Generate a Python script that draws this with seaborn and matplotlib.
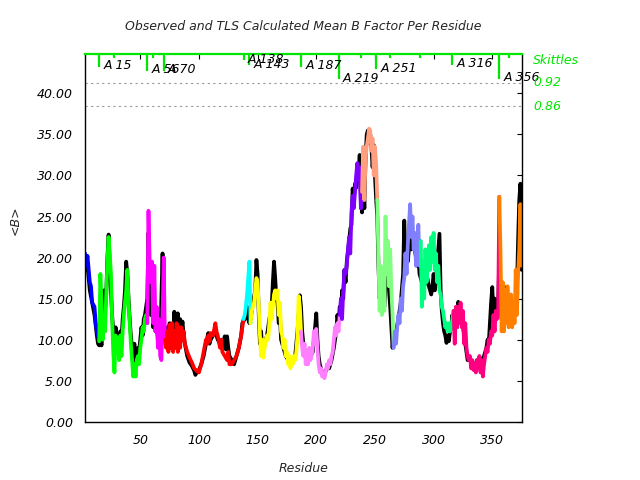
import numpy as np
import pandas as pd
import matplotlib
matplotlib.use("Agg")
import matplotlib.pyplot as plt
import matplotlib.transforms as mtransforms
from matplotlib.ticker import FormatStrFormatter
import seaborn as sns

# ---------------- data ----------------
# TLS calculated mean B per residue (coloured by TLS group)
tls_residue = [
    3, 4, 5, 7, 8, 9, 11, 12, 13, 14,
    15, 16, 17, 18, 19, 20, 21, 22, 23, 24, 25, 26, 27, 28, 29, 30, 31, 32, 33, 34,
    35, 36, 37, 38, 39, 40, 41, 42, 43, 44, 45, 46, 47, 48, 49, 50, 51, 52, 53, 54, 55,
    56, 57, 58, 59, 60, 61, 62, 63, 64, 65, 66, 67, 68, 69, 70,
    71, 72, 73, 74, 75, 76, 77, 78, 79, 80, 81, 82, 83, 84, 85, 86, 87, 88,
    90, 92, 94, 96, 98, 100, 102, 104, 106, 107, 108, 109, 110, 112, 114, 115, 116,
    118, 119, 120, 122, 124, 125, 126, 128, 130, 132, 134, 136, 137,
    138, 139, 140, 141, 142, 143,
    144, 145, 146, 147, 148, 149, 150, 151, 152, 153, 154, 155, 156, 157, 158, 159, 160,
    161, 162, 163, 164, 165, 166, 167, 168, 169, 170, 171, 172, 173, 174, 175, 176, 177,
    178, 179, 180, 181, 182, 183, 184, 185, 186,
    187, 188, 189, 190, 191, 192, 193, 194, 195, 196, 197, 198, 199, 200, 201, 202, 203,
    204, 205, 206, 207, 208, 209, 210, 211, 212, 213, 214, 215, 216, 217, 218, 219,
    220, 221, 222, 223, 224, 225, 226, 227, 228, 229, 230, 231, 232, 233, 234, 235, 236, 237, 238,
    239, 240, 241, 242, 243, 244, 245, 246, 247, 248, 249, 250, 251,
    252, 253, 254, 255, 256, 257, 258, 259, 260, 261, 262, 263, 264, 265,
    266, 267, 268, 269, 270, 271, 272, 273, 274, 275, 276, 277, 278, 279, 280, 281, 282,
    283, 284, 285, 286, 287, 288,
    289, 290, 291, 292, 293, 294, 295, 296, 297, 298, 299, 300, 301, 302, 303, 304, 305,
    306, 307, 308, 309, 310, 311, 312, 313, 314, 315, 316,
    317, 318, 319, 320, 321, 322, 323, 324, 325, 326, 327, 328, 329, 330, 331, 332, 333,
    334, 335, 336, 337, 338, 339, 340, 341, 342, 343, 344, 345, 346, 347, 348, 349, 350,
    351, 352, 353, 354, 355,
    356, 357, 358, 359, 360, 361, 362, 363, 364, 365, 366, 367, 368, 369, 370, 371, 372,
    373, 374, 375,
]
tls_b = [
    20.5, 19.0, 20.2, 17.0, 16.5, 14.5, 14.0, 12.0, 11.0, 10.5,
    9.8, 18.0, 14.5, 10.0, 12.5, 11.0, 15.5, 19.5, 22.5, 20.5, 18.0, 12.5, 8.5, 6.0, 10.5, 8.5, 10.0, 7.5, 10.5, 8.0,
    11.0, 13.0, 14.5, 16.0, 18.5, 14.5, 12.0, 9.5, 7.5, 5.5, 7.0, 5.5, 7.5, 8.0, 7.0, 9.0, 10.0, 11.5, 11.0, 12.5, 13.0,
    12.0, 25.7, 19.5, 17.0, 19.5, 12.0, 19.0, 11.0, 14.0, 9.0, 12.5, 8.0, 7.5, 13.0, 20.0,
    10.0, 9.0, 11.0, 8.5, 11.8, 9.0, 12.0, 8.5, 11.0, 9.0, 12.0, 8.5, 11.5, 9.0, 11.5, 10.0, 11.0, 9.5,
    8.5, 7.8, 7.2, 6.5, 6.2, 6.0, 7.0, 8.5, 10.0, 9.5, 10.5, 9.8, 10.8, 10.5, 12.0, 11.0, 10.5,
    9.0, 10.0, 8.5, 8.0, 7.5, 8.5, 7.0, 7.0, 7.5, 8.0, 9.0, 10.5, 11.5,
    12.5, 13.0, 14.0, 15.5, 17.5, 19.5,
    12.0, 13.5, 14.0, 14.5, 16.0, 17.5, 17.0, 14.0, 10.5, 8.0, 10.0, 7.8, 9.0, 10.0, 10.5, 10.0, 12.0,
    14.5, 12.5, 14.0, 15.5, 16.0, 15.0, 16.0, 13.0, 14.5, 11.0, 10.5, 9.0, 10.0, 8.0, 8.5, 7.0, 8.0,
    6.5, 7.5, 7.0, 8.0, 7.5, 8.5, 10.5, 15.3, 14.0,
    11.0, 9.0, 8.0, 9.5, 7.0, 8.5, 7.0, 9.0, 7.5, 8.0, 9.0, 11.0, 9.5, 11.3, 9.0, 7.0, 6.0,
    6.5, 5.5, 6.0, 5.3, 6.0, 7.0, 6.5, 7.5, 7.0, 8.0, 8.5, 10.0, 11.5, 10.5, 12.0, 11.0,
    13.0, 15.0, 12.5, 16.0, 18.5, 18.0, 19.0, 21.0, 22.5, 20.5, 25.5, 27.5, 26.0, 28.0, 30.0, 31.5, 29.5, 31.0, 26.0,
    28.0, 33.5, 27.0, 32.0, 33.5, 34.5, 35.7, 35.5, 33.0, 34.5, 30.0, 33.5, 31.5,
    27.0, 20.0, 13.5, 19.0, 13.0, 17.5, 13.5, 25.0, 18.0, 22.0, 16.5, 21.0, 16.0, 13.0,
    9.0, 11.0, 9.5, 11.5, 13.0, 12.0, 15.0, 13.5, 16.5, 17.5, 20.5, 18.0, 21.5, 24.0, 26.5, 22.5, 25.0,
    21.0, 23.0, 19.0, 21.5, 24.0, 19.0,
    22.0, 14.0, 19.5, 15.0, 21.0, 17.0, 19.0, 21.5, 18.5, 22.5, 19.5, 23.0, 18.5, 20.5, 17.0, 19.0, 16.0,
    15.5, 14.0, 13.5, 12.5, 11.5, 12.0, 11.0, 12.0, 11.0, 11.5, 12.5,
    13.5, 9.5, 14.0, 11.5, 14.0, 12.0, 14.5, 11.5, 13.5, 9.5, 12.0, 9.0, 8.0, 7.5, 8.0, 6.5, 7.5,
    6.3, 7.0, 6.0, 7.5, 6.5, 8.0, 6.0, 7.5, 5.5, 7.0, 8.0, 9.0, 8.5, 10.0, 9.5, 11.0, 10.5,
    13.0, 11.0, 13.5, 12.5, 13.0,
    27.4, 21.0, 11.0, 17.0, 11.0, 16.0, 12.0, 16.5, 11.5, 14.0, 15.5, 11.5, 14.5, 12.0, 18.5, 13.0, 18.0,
    21.0, 26.5, 19.0,
]

# observed mean B per residue (black)
obs_residue = [
    3, 4, 5, 7, 9, 11, 13, 14, 15, 16, 17, 18, 19, 20, 21, 22, 23, 24, 25, 26, 27, 28, 29, 30,
    31, 32, 33, 34, 35, 36, 37, 38, 39, 40, 41, 42, 43, 44, 45, 46, 47, 48, 49, 50, 51, 52, 53,
    54, 55, 56, 57, 58, 59, 60, 61, 62, 63, 64, 65, 66, 67, 68, 69, 70, 71, 72, 73, 74, 75, 76,
    77, 78, 79, 80, 81, 82, 83, 84, 85, 86, 87, 88, 90, 92, 94, 96, 97, 98, 100, 102, 104, 106,
    108, 109, 110, 112, 114, 116, 118, 120, 122, 123, 124, 125, 126, 128, 130, 132, 134, 136, 137,
    139, 141, 142, 143, 144, 146, 148, 149, 150, 151, 152, 153, 154, 156, 158, 160, 162, 163, 164,
    165, 166, 167, 168, 169, 170, 172, 174, 176, 178, 180, 182, 184, 185, 186, 187, 188, 189, 191,
    193, 195, 197, 198, 199, 200, 201, 202, 203, 205, 207, 209, 211, 213, 215, 217, 218, 219, 220,
    221, 222, 223, 224, 225, 226, 228, 229, 230, 231, 232, 233, 234, 235, 236, 237, 238, 239, 240,
    241, 242, 243, 244, 245, 246, 247, 248, 249, 250, 251, 252, 253, 254, 255, 256, 257, 258, 259,
    260, 261, 262, 263, 264, 265, 266, 267, 268, 270, 272, 274, 275, 276, 277, 278, 279, 280, 281,
    282, 284, 286, 287, 288, 290, 292, 294, 296, 298, 299, 300, 301, 302, 303, 304, 305, 306, 307,
    308, 309, 310, 311, 312, 313, 314, 315, 316, 317, 318, 319, 320, 321, 322, 323, 324, 326, 328,
    329, 331, 333, 335, 337, 339, 341, 343, 345, 346, 347, 348, 349, 350, 351, 352, 353, 354, 355,
    356, 357, 358, 359, 360, 361, 362, 363, 364, 366, 368, 370, 371, 372, 373, 374, 375,
]
obs_b = [
    20.0, 18.5, 19.0, 16.0, 14.5, 13.0, 10.5, 9.5, 9.3, 10.0, 9.3, 11.0, 16.0, 13.5, 15.5, 20.0, 22.8, 19.0, 16.0, 13.0, 11.0, 9.0, 11.5, 9.0,
    10.5, 9.0, 11.0, 10.0, 12.5, 14.0, 16.0, 19.5, 18.0, 15.0, 12.5, 10.5, 9.0, 8.0, 9.5, 7.0, 8.5, 9.0, 8.5, 10.0, 11.5, 10.5, 12.5,
    13.0, 14.0, 15.0, 23.0, 17.0, 13.0, 15.5, 11.5, 14.0, 11.0, 12.0, 10.0, 11.0, 9.5, 15.0, 20.5, 12.0, 10.0, 9.5, 11.5, 9.0, 12.0, 9.5,
    11.5, 9.0, 13.4, 10.0, 12.0, 13.2, 10.5, 12.5, 11.0, 12.2, 10.5, 9.5, 8.0, 7.2, 6.8, 6.2, 5.7, 6.0, 6.3, 7.0, 8.0, 9.5,
    10.8, 9.5, 10.0, 10.5, 11.0, 10.0, 9.5, 9.0, 10.4, 8.8, 10.4, 9.0, 8.0, 7.5, 7.0, 8.0, 9.0, 10.5, 12.0,
    12.5, 14.0, 12.5, 12.0, 12.5, 14.5, 16.0, 19.7, 18.0, 13.0, 9.5, 11.0, 8.5, 9.5, 10.5, 12.5, 14.0, 17.0, 19.5,
    17.5, 15.0, 14.5, 12.0, 13.0, 10.0, 9.0, 8.0, 7.5, 7.0, 7.5, 8.0, 11.0, 13.0, 15.4, 14.0, 11.0, 9.5, 8.0,
    7.5, 8.0, 8.5, 10.0, 11.5, 13.2, 10.0, 8.0, 7.0, 6.0, 5.8, 6.5, 6.5, 7.5, 9.0, 11.0, 13.0, 12.0, 14.0,
    13.0, 16.0, 15.0, 18.5, 17.0, 19.5, 22.0, 23.5, 24.0, 28.4, 27.0, 29.0, 28.5, 31.0, 30.0, 32.5, 27.0, 25.5, 30.0,
    26.0, 32.0, 35.0, 35.5, 34.0, 35.0, 33.5, 31.0, 33.7, 30.0, 27.2, 25.0, 19.0, 15.0, 17.0, 14.0, 15.5, 14.0, 17.0,
    22.1, 19.0, 16.0, 14.0, 11.5, 9.0, 10.5, 9.5, 11.0, 12.5, 14.5, 18.0, 24.5, 20.0, 20.0, 19.5, 21.0, 23.0, 21.0,
    22.5, 21.0, 19.0, 20.0, 18.0, 17.0, 16.5, 18.0, 16.5, 15.5, 16.5, 18.0, 16.0, 17.0, 19.0, 21.0, 22.9, 16.0, 13.5,
    12.0, 11.0, 10.5, 9.6, 10.5, 9.8, 11.0, 11.5, 13.0, 11.5, 12.0, 13.5, 11.5, 14.6, 14.0, 12.5, 13.0, 10.5, 8.5,
    7.5, 7.5, 7.0, 6.8, 7.5, 7.0, 7.5, 8.0, 9.0, 10.0, 9.5, 12.0, 14.5, 16.4, 13.0, 15.0, 12.5, 13.5, 14.0,
    20.0, 16.0, 12.5, 15.5, 13.0, 15.0, 16.4, 14.0, 12.5, 13.0, 12.0, 14.0, 16.0, 22.0, 27.0, 29.0, 18.5,
]

# TLS groups: first residue of each group and its colour
group_start = [3, 15, 56, 71, 138, 144, 187, 220, 239, 252, 266, 289, 317, 356]
group_colors = ["#0000ff", "#00ff00", "#ff00ff", "#ff0000", "#00ffff", "#ffff00",
                "#ff80ff", "#8000ff", "#ff9f80", "#80ff80", "#8080ff", "#00ff80",
                "#ff0080", "#ff8000"]

# segment markers along the top ("Skittles")
marker_residue = [15, 56, 70, 138, 143, 187, 219, 251, 316, 356]
marker_label = ["A 15", "A 56", "A 70", "A 138", "A 143", "A 187", "A 219", "A 251", "A 316", "A 356"]
marker_len_px = [12.7, 16.7, 16.7, 6.0, 11.0, 12.7, 25.3, 15.3, 10.7, 24.7]
short_marker_residue = [28, 61, 238, 263, 288, 364]

skittles_levels = [41.27, 38.41]
skittles_labels = ["0.92", "0.86"]

x_ticks = [50, 100, 150, 200, 250, 300, 350]
y_ticks = [0, 5, 10, 15, 20, 25, 30, 35, 40]

# ---------------- style ----------------
sns.set_style("white")
plt.rcParams["font.family"] = ["DejaVu Sans"]
plt.rcParams["font.style"] = "italic"
plt.rcParams["font.size"] = 9

GREEN = "#00e600"

fig = plt.figure(figsize=(6.4, 4.8), dpi=100)
ax = fig.add_axes([85 / 640, (480 - 421.7) / 480, 437.3 / 640, 367.7 / 480])

# observed (black)
obs_df = pd.DataFrame({"residue": obs_residue, "B": obs_b})
sns.lineplot(data=obs_df, x="residue", y="B", color="black", lw=2.7,
             estimator=None, ax=ax, legend=False)

# TLS groups (coloured) - each group joined to the first point of the next
tls_df = pd.DataFrame({"residue": tls_residue, "B": tls_b})
tls_df["group"] = np.searchsorted(group_start, tls_df["residue"], side="right") - 1
pieces = []
for g in range(len(group_start)):
    part = tls_df[tls_df["group"] == g].copy()
    nxt = tls_df[tls_df["group"] == g + 1].head(1).copy()
    nxt["group"] = g
    pieces.append(pd.concat([part, nxt]))
tls_plot = pd.concat(pieces, ignore_index=True)
palette = {g: c for g, c in enumerate(group_colors)}
sns.lineplot(data=tls_plot, x="residue", y="B", hue="group", palette=palette,
             lw=2.7, estimator=None, ax=ax, legend=False, units="group")

ax.set_xlim(2.9, 375.6)
ax.set_ylim(0, 44.8)

# dotted skittles threshold lines
for lvl in skittles_levels:
    ax.axhline(lvl, color="#999999", lw=0.8, ls=(0, (2, 3)))

# markers at top
blend = mtransforms.blended_transform_factory(ax.transData, ax.transAxes)
ax_h_px = 367.7
for r, lab, L in zip(marker_residue, marker_label, marker_len_px):
    ax.plot([r, r], [1.0, 1.0 - L / ax_h_px], color=GREEN, lw=1.6,
            transform=blend, clip_on=False, solid_capstyle="butt")
    t = mtransforms.offset_copy(blend, fig=fig, x=4.3, y=0, units="dots")
    ax.text(r, 1.0 - (L + 2.7) / ax_h_px, lab, transform=t, ha="left",
            va="baseline", fontsize=9, color="black")
for r in short_marker_residue:
    ax.plot([r, r], [1.0, 1.0 - 3.5 / ax_h_px], color=GREEN, lw=1.6,
            transform=blend, clip_on=False, solid_capstyle="butt")

# right-side labels
blend_r = mtransforms.blended_transform_factory(ax.transAxes, ax.transData)
for lvl, lab in zip(skittles_levels, skittles_labels):
    ax.text(1.025, lvl, lab, transform=blend_r, ha="left", va="center",
            color=GREEN, fontsize=9)
ax.text(1.025, (421.7 - 61) / ax_h_px, "Skittles", transform=ax.transAxes,
        ha="left", va="center", color=GREEN, fontsize=9)

# axes styling
ax.set_xticks(x_ticks)
ax.set_yticks(y_ticks)
ax.yaxis.set_major_formatter(FormatStrFormatter("%.2f"))
ax.tick_params(axis="both", direction="in", length=3.6, width=0.8,
               top=True, right=True, labelsize=9, colors="black")
ax.tick_params(axis="y", pad=8.6)
ax.tick_params(axis="x", pad=9)
for s in ["left", "right", "bottom"]:
    ax.spines[s].set_color("black")
    ax.spines[s].set_linewidth(1.0)
ax.spines["top"].set_color(GREEN)
ax.spines["top"].set_linewidth(1.6)

ax.set_xlabel("Residue", fontsize=9)
ax.xaxis.set_label_coords(0.5, (421.7 - 468) / ax_h_px)
ax.xaxis.label.set_verticalalignment("center")
ax.set_ylabel("<B>", fontsize=9)
ax.yaxis.set_label_coords((15 - 85) / 437.3, (421.7 - 220) / ax_h_px)
ax.yaxis.label.set_verticalalignment("center")

fig.text(303 / 640, 1 - 27 / 480, "Observed and TLS Calculated Mean B Factor Per Residue",
         ha="center", va="center", fontsize=9)

fig.savefig("out.png", dpi=100)
